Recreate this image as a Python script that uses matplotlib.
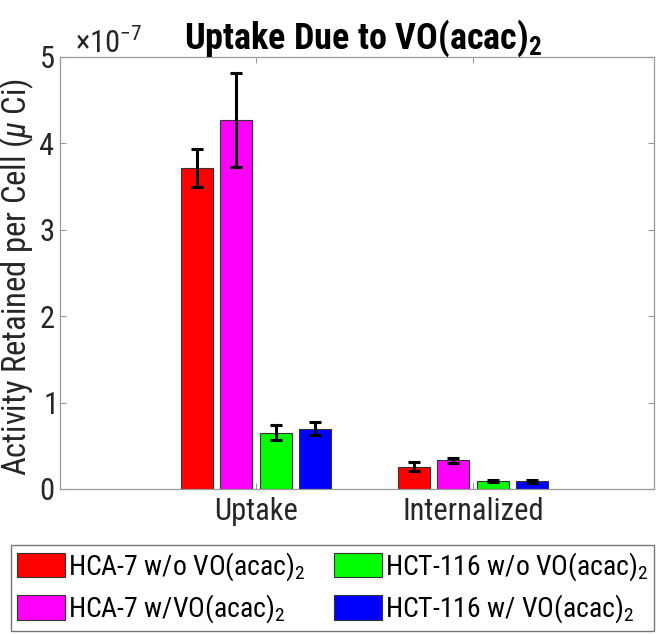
import numpy as np
import matplotlib
matplotlib.use("Agg")
import matplotlib.pyplot as plt
from matplotlib import ticker

plt.rcParams['font.family'] = ['Roboto Condensed', 'DejaVu Sans']
plt.rcParams['mathtext.fontset'] = 'custom'
plt.rcParams['mathtext.rm'] = 'Roboto Condensed'
plt.rcParams['mathtext.it'] = 'Roboto Condensed:italic'
plt.rcParams['mathtext.bf'] = 'Roboto Condensed:bold'

# activity per cell, in units of 1e-7 uCi
groups = ['Uptake', 'Internalized']
series = ['HCA-7 w/o VO(acac)$_2$', 'HCA-7 w/VO(acac)$_2$',
          'HCT-116 w/o VO(acac)$_2$', 'HCT-116 w/ VO(acac)$_2$']
colors = ['#ff0000', '#ff00ff', '#00ff00', '#0000ff']
hca7_wo = [3.72, 0.258]
hca7_w = [4.27, 0.332]
hct116_wo = [0.652, 0.093]
hct116_w = [0.70, 0.089]
err_hca7_wo = [0.22, 0.053]
err_hca7_w = [0.545, 0.03]
err_hct116_wo = [0.085, 0.01]
err_hct116_w = [0.08, 0.015]

vals = [hca7_wo, hca7_w, hct116_wo, hct116_w]
errs = [err_hca7_wo, err_hca7_w, err_hct116_wo, err_hct116_w]
scale = 1e-7

fig = plt.figure(figsize=(6.57, 6.34), dpi=100)
ax = fig.add_axes([60/657, 1 - 489/634, 594/657, 432/634])

x = np.arange(1, len(groups) + 1)
step = 0.182
width = 0.148
handles = []
for i in range(len(series)):
    pos = x + (i - 1.5) * step
    b = ax.bar(pos, np.array(vals[i]) * scale, width, color=colors[i],
               edgecolor='#333333', linewidth=0.8, label=series[i], zorder=2)
    handles.append(b)
    ax.errorbar(pos, np.array(vals[i]) * scale, yerr=np.array(errs[i]) * scale,
                fmt='none', ecolor='black', elinewidth=2.2, capsize=4.5,
                capthick=2.2, zorder=3)

ax.set_xlim(0.097, 2.834)
ax.set_ylim(0, 5e-7)
ax.set_xticks(x)
ax.set_xticklabels(groups)
ax.set_yticks(np.arange(0, 6) * scale)
fmt = ticker.ScalarFormatter(useMathText=True)
fmt.set_powerlimits((0, 0))
ax.yaxis.set_major_formatter(fmt)
offset = ax.yaxis.get_offset_text()
offset.set_fontsize(22)
offset.set_color('#262626')
offset.set_x(0.025)

ax.tick_params(direction='in', length=4, width=0.8, color='#999999',
               labelsize=22, labelcolor='#262626', top=True, right=True,
               pad=6)
ax.tick_params(axis='y', pad=4)
for s in ax.spines.values():
    s.set_color('#999999')
    s.set_linewidth(0.9)

ax.set_ylabel(r'Activity Retained per Cell ($\mu$ Ci)', fontsize=23.5,
              color='#262626')
ax.yaxis.set_label_coords(-0.041, 0.49)
ax.set_title(r'Uptake Due to VO(acac)$_\mathbf{2}$', fontsize=26,
             fontweight='bold', x=0.51, pad=6)

fig.legend(handles=handles, loc='lower left', ncol=2, mode='expand',
           bbox_to_anchor=(11/657, 3/634, 643/657, 82/634),
           fontsize=20, frameon=True, fancybox=False, edgecolor='#555555',
           handlelength=1.75, handleheight=1.0, handletextpad=0.1,
           columnspacing=0.3, labelspacing=0.35, borderpad=0.2,
           borderaxespad=0)

fig.savefig('out.png', dpi=100)
